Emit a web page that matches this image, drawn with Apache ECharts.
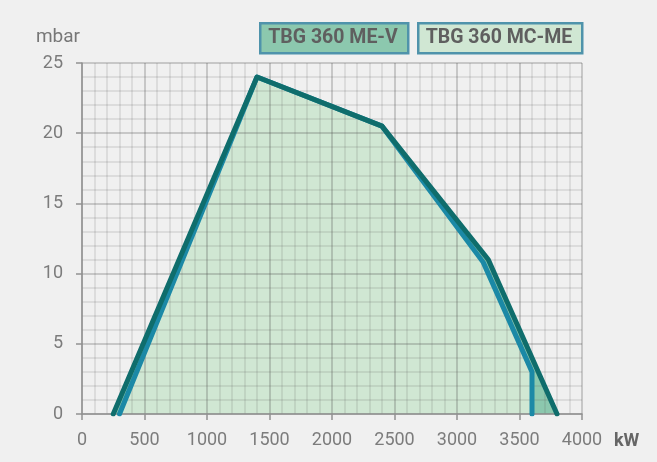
<!DOCTYPE html>
<html>
<head>
<meta charset="utf-8">
<script src="https://cdn.jsdelivr.net/npm/echarts@6/dist/echarts.min.js"></script>
<style>
html,body{margin:0;padding:0;background:#f0f0f0;}
#chart{width:657px;height:462px;}
</style>
</head>
<body>
<div id="chart"></div>
<script>
// Data
const seriesNames = ['TBG 360 ME-V', 'TBG 360 MC-ME'];
const meV_kW   = [250, 1400, 2400, 3250, 3800];
const meV_mbar = [0,   24,   20.5, 11,   0];
const mcMe_kW   = [300, 1400, 2400, 3210, 3600, 3600];
const mcMe_mbar = [0,   24,   20.5, 10.8, 3,    0];
const xTicks = [0, 500, 1000, 1500, 2000, 2500, 3000, 3500, 4000];
const yTicks = [0, 5, 10, 15, 20, 25];

const pairs = (xs, ys) => xs.map((x, i) => [x, ys[i]]);
const meV = pairs(meV_kW, meV_mbar);
const mcMe = pairs(mcMe_kW, mcMe_mbar);

const FONT = 'Roboto';
const MAJOR = 'rgba(70,70,70,0.32)';
const MINOR = 'rgba(90,90,90,0.18)';
const chart = echarts.init(document.getElementById('chart'), null, {renderer: 'canvas'});
chart.setOption({
  backgroundColor: '#f0f0f0',
  animation: false,
  grid: {left: 82, right: 75, top: 63, bottom: 48, containLabel: false},
  xAxis: {
    type: 'value', min: xTicks[0], max: xTicks[xTicks.length - 1], interval: 500, z: 3,
    name: 'kW', nameLocation: 'end', nameGap: 32,
    nameTextStyle: {fontFamily: FONT, fontSize: 18, fontWeight: 'bold', color: '#666', verticalAlign: 'top', padding: [18, 0, 0, 0]},
    axisLine: {show: true, lineStyle: {color: '#919191', width: 1.5}},
    axisTick: {show: true, length: 6, lineStyle: {color: '#919191', width: 1.5}},
    axisLabel: {fontFamily: FONT, fontSize: 18, color: '#7c7c7c', margin: 17, formatter: v => String(v)},
    splitLine: {show: true, lineStyle: {color: MAJOR, width: 1.5}},
    minorTick: {show: false, splitNumber: 5},
    minorSplitLine: {show: true, lineStyle: {color: MINOR, width: 1.5}}
  },
  yAxis: {
    type: 'value', min: yTicks[0], max: yTicks[yTicks.length - 1], interval: 5, z: 3,
    name: 'mbar', nameLocation: 'end', nameGap: 16,
    nameTextStyle: {fontFamily: FONT, fontSize: 19, color: '#777', align: 'right', padding: [0, 2, 0, 0]},
    axisLine: {show: true, lineStyle: {color: '#919191', width: 1.5}},
    axisTick: {show: true, length: 6, lineStyle: {color: '#919191', width: 1.5}},
    axisLabel: {fontFamily: FONT, fontSize: 18, color: '#7c7c7c', margin: 19, formatter: v => String(v)},
    splitLine: {show: true, lineStyle: {color: MAJOR, width: 1.5}},
    minorTick: {show: false, splitNumber: 5},
    minorSplitLine: {show: true, lineStyle: {color: MINOR, width: 1.5}}
  },
  series: [
    {name: seriesNames[0] + ' area', type: 'line', data: meV, z: 1, symbol: 'none', silent: true,
     lineStyle: {width: 0}, areaStyle: {color: '#8cc8ae', opacity: 1}},
    {name: seriesNames[1] + ' area', type: 'line', data: mcMe, z: 2, symbol: 'none', silent: true,
     lineStyle: {width: 0}, areaStyle: {color: '#d0e7d3', opacity: 1}},
    {name: seriesNames[1], type: 'line', data: mcMe, z: 5, symbol: 'none',
     lineStyle: {color: '#1b89a6', width: 5, cap: 'round', join: 'round'}},
    {name: seriesNames[0], type: 'line', data: meV, z: 6, symbol: 'none',
     lineStyle: {color: '#0f6d6c', width: 5, cap: 'round', join: 'round'}}
  ],
  graphic: [
    {type: 'rect', left: 259, top: 22, z: 10, shape: {width: 148, height: 30},
     style: {fill: '#8cc8ae', stroke: '#4f93ab', lineWidth: 2.5}},
    {type: 'text', x: 333, y: 38, z: 11,
     style: {text: seriesNames[0], fontFamily: FONT, fontSize: 19.5, fontWeight: 'bold', fill: '#5f5f5f', align: 'center', verticalAlign: 'middle'}},
    {type: 'rect', left: 417, top: 22, z: 10, shape: {width: 164, height: 30},
     style: {fill: '#d0e7d3', stroke: '#4f93ab', lineWidth: 2.5}},
    {type: 'text', x: 499, y: 38, z: 11,
     style: {text: seriesNames[1], fontFamily: FONT, fontSize: 19.5, fontWeight: 'bold', fill: '#5f5f5f', align: 'center', verticalAlign: 'middle'}}
  ]
});
</script>
</body>
</html>
